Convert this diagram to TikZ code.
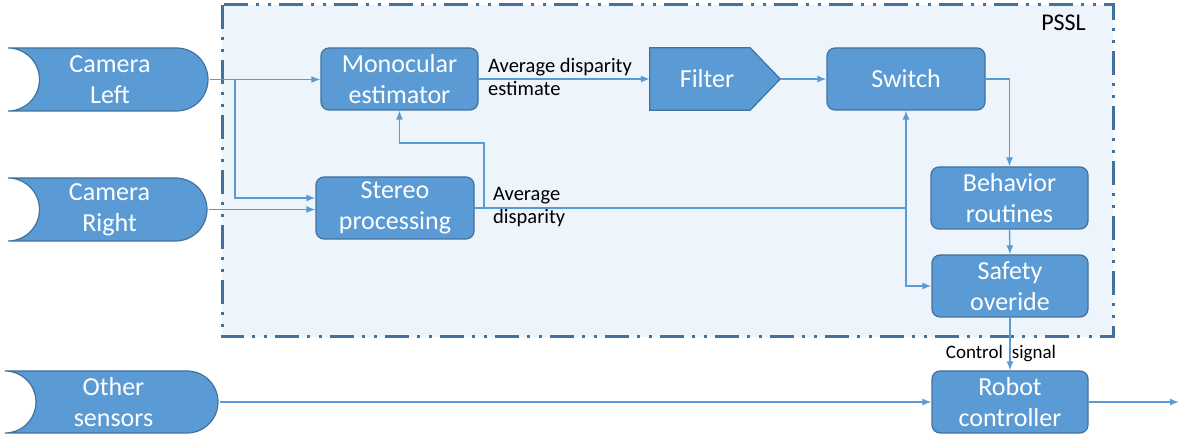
\documentclass[tikz,border=0pt]{standalone}
\usepackage{fontspec}
\setmainfont{Carlito}
\usetikzlibrary{arrows.meta}

\definecolor{boxblue}{HTML}{5B9BD5}
\definecolor{boxedge}{HTML}{41719C}
\definecolor{linkblue}{HTML}{5B9BD5}
\definecolor{areafill}{HTML}{EDF4FB}

\begin{document}
\begin{tikzpicture}[x=1pt,y=1pt,>={Latex[length=9pt,width=7pt]},
    box/.style={rounded corners=8pt,draw=boxedge,fill=boxblue,line width=1.2pt,text=white,align=center,
        font=\fontsize{26}{31}\selectfont,minimum width=157pt,minimum height=62pt,inner sep=0pt},
    store/.style={text=white,align=center,font=\fontsize{26}{31}\selectfont,minimum height=63pt,inner sep=0pt},
    storeshape/.style={draw=boxedge,fill=boxblue,line width=1.2pt},
    link/.style={->,draw=linkblue,line width=1.4pt},
    wire/.style={-,draw=linkblue,line width=1.4pt},
    lbl/.style={align=left,font=\fontsize{20.5}{23}\selectfont,inner sep=0pt}]
    \useasboundingbox (0,0) rectangle (1179,-438);

    % PSSL area
    \draw[boxedge,fill=areafill,line width=3pt,dash pattern=on 24pt off 8pt on 3pt off 9pt on 3pt off 8pt]
        (222,-5) rectangle (1113,-337);
    \node[font=\fontsize{24}{28}\selectfont,anchor=north east,inner sep=0pt] (pssl) at (1086,-15) {PSSL};

    % sensor sources
    \foreach \n/\x/\y/\w/\h in {camL/108/-79.5/200/63, camR/107.5/-209.5/199/63, other/111.5/-402/213/62}{
        \path[storeshape] (\x-\w/2,\y+\h/2) -- (\x+\w/2-\h/2,\y+\h/2)
            arc[start angle=90,end angle=-90,radius=\h/2] -- (\x-\w/2,\y-\h/2)
            arc[start angle=-90,end angle=90,radius=\h/2] -- cycle;
    }
    \node[store,minimum width=200pt] (camL) at (110,-79.5) {Camera\\Left};
    \node[store,minimum width=199pt] (camR) at (109.5,-209.5) {Camera\\Right};
    \node[store,minimum width=213pt] (other) at (113.5,-402) {Other\\sensors};

    % processing blocks
    \node[box] (monoc) at (399.5,-79) {Monocular\\estimator};
    \node[box,minimum width=158pt] (stereo) at (395,-208) {Stereo\\processing};
    \node[store,minimum width=130pt,minimum height=62pt] (filter) at (715,-79) {};
    \path[storeshape] (filter.north west) -- ([xshift=-30pt]filter.north east) -- (filter.east)
        -- ([xshift=-30pt]filter.south east) -- (filter.south west) -- cycle;
    \node[store] (filtertxt) at (707,-79) {Filter};
    \node[box,minimum width=158pt] (switch) at (906,-79) {Switch};
    \node[box] (behav) at (1009.5,-198) {Behavior\\routines};
    \node[box,minimum width=156pt] (safety) at (1010,-286) {Safety\\overide};
    \node[box,minimum width=156pt] (robot) at (1010,-402) {Robot\\controller};

    % labels
    \node[lbl,anchor=north west] (estlbl) at (488,-58) {Average disparity\\estimate};
    \node[lbl,anchor=north west] (avglbl) at (493,-187) {Average\\disparity};
    \node[lbl,font=\fontsize{19}{22}\selectfont] (ctrl) at (1001,-354) {Control\hspace{9pt}signal};

    \coordinate (splitL) at (235,-79.5);
    \coordinate (fb) at (484,-208);
    \coordinate (junc) at (906,-208);
    \coordinate (out) at (1179,-402);

    % connectors
    \draw[link] (camL.east) -- (monoc.west |- camL.east);
    \draw[link] (splitL) |- ([yshift=10pt]stereo.west);
    \draw[link] (camR.east) -- (stereo.west |- camR.east);
    \draw[wire] (stereo.east) -- (junc);
    \draw[link] (fb) -- ++(0,65) -| (monoc.south);
    \draw[link] (junc) -- (switch.south);
    \draw[link] (junc) |- (safety.west);
    \draw[link] (monoc.east) -- (filter.west);
    \draw[link] (filter.east) -- (switch.west);
    \draw[link] (switch.east) -| (behav.north);
    \draw[link] (behav.south) -- (safety.north);
    \draw[link] (safety.south) -- (robot.north);
    \draw[link] (other.east) -- (robot.west);
    \draw[link] (robot.east) -- (out);
\end{tikzpicture}
\end{document}
